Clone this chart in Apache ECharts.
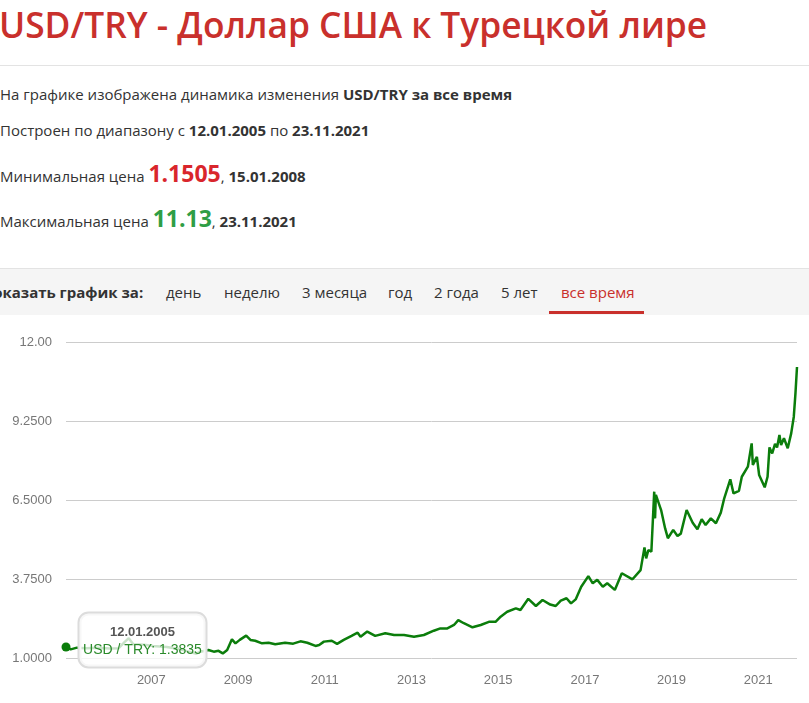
<!DOCTYPE html>
<html><head><meta charset="utf-8">
<script src="https://cdn.jsdelivr.net/npm/echarts@6/dist/echarts.min.js"></script>
<style>
html,body{margin:0;padding:0;width:809px;height:703px;overflow:hidden;background:#fff;font-family:"Open Sans",sans-serif;color:#333;}
.abs{position:absolute;white-space:nowrap;}
#title{left:-1px;top:1px;font-size:35.3px;font-weight:600;line-height:46px;color:#c9302c;}
#hr{left:0;top:65px;width:809px;height:1px;background:#e3e3e3;}
.p{left:0;font-size:15px;line-height:20px;color:#333;}
.p b{font-weight:700;}
.big{font-size:23px;font-weight:700;}
#tabs{left:0;top:268px;width:809px;height:46px;background:#f5f5f5;border-top:1px solid #e3e3e3;}
.tab{top:281px;font-size:15px;line-height:22px;color:#333;}
#chart{position:absolute;left:0;top:320px;width:809px;height:383px;}
</style></head>
<body>
<div class="abs" id="title">USD/TRY - Доллар США к Турецкой лире</div>
<div class="abs" id="hr"></div>
<div class="abs p" style="top:84px">На графике изображена динамика изменения <b>USD/TRY за все время</b></div>
<div class="abs p" style="top:120px">Построен по диапазону с <b>12.01.2005</b> по <b>23.11.2021</b></div>
<div class="abs p" style="top:161px;line-height:24px">Минимальная цена <span class="big" style="color:#d9262c">1.1505</span>, <b>15.01.2008</b></div>
<div class="abs p" style="top:206px;line-height:24px">Максимальная цена <span class="big" style="color:#2f9e45">11.13</span>, <b>23.11.2021</b></div>
<div class="abs" id="tabs"></div>
<div class="abs tab" style="left:-18px;font-weight:700">Показать график за:</div>
<div class="abs tab" style="left:166px">день</div>
<div class="abs tab" style="left:224px">неделю</div>
<div class="abs tab" style="left:302px">3 месяца</div>
<div class="abs tab" style="left:388px">год</div>
<div class="abs tab" style="left:434px">2 года</div>
<div class="abs tab" style="left:501px">5 лет</div>
<div class="abs tab" style="left:561px;color:#c9302c">все время</div>
<div class="abs" style="left:549px;top:311px;width:95px;height:3px;background:#c9302c"></div>
<div id="chart"></div>
<script>
var dates = ['2005-01-12','2005-02-20','2005-04-15','2005-07-01','2005-10-01','2006-01-15','2006-04-01','2006-05-20','2006-06-25','2006-08-01','2006-11-01','2007-01-15','2007-05-10','2007-08-15','2007-10-27','2008-01-15','2008-02-18','2008-04-26','2008-06-10','2008-07-20','2008-08-25','2008-10-01','2008-11-10','2008-12-10','2009-01-15','2009-03-10','2009-04-15','2009-05-25','2009-07-22','2009-09-15','2009-11-10','2010-02-01','2010-04-10','2010-06-10','2010-08-07','2010-10-15','2010-11-15','2010-12-25','2011-03-01','2011-04-15','2011-06-10','2011-08-15','2011-10-05','2011-10-30','2011-12-25','2012-03-01','2012-05-25','2012-08-07','2012-10-30','2013-01-22','2013-04-15','2013-07-08','2013-09-01','2013-10-30','2013-12-25','2014-01-30','2014-03-18','2014-05-30','2014-08-07','2014-10-15','2014-12-10','2015-01-22','2015-03-18','2015-05-30','2015-07-08','2015-09-12','2015-11-15','2016-01-10','2016-03-15','2016-04-30','2016-06-12','2016-07-30','2016-09-06','2016-10-15','2016-12-01','2017-01-30','2017-03-08','2017-04-15','2017-06-01','2017-07-08','2017-09-10','2017-11-08','2018-02-06','2018-04-15','2018-05-18','2018-06-01','2018-06-20','2018-07-15','2018-08-08','2018-08-15','2018-08-22','2018-10-05','2018-11-08','2018-12-01','2019-01-15','2019-02-20','2019-03-20','2019-05-08','2019-06-28','2019-08-07','2019-09-12','2019-10-15','2019-11-28','2020-01-10','2020-02-20','2020-03-20','2020-05-10','2020-06-06','2020-07-22','2020-08-15','2020-10-05','2020-11-06','2020-11-16','2020-12-20','2021-01-08','2021-02-24','2021-03-20','2021-04-05','2021-04-28','2021-05-22','2021-06-08','2021-06-28','2021-07-12','2021-08-05','2021-09-06','2021-10-05','2021-10-27','2021-11-10','2021-11-23'];
var usdTry = [1.3835,1.30,1.36,1.34,1.36,1.33,1.34,1.55,1.69,1.48,1.46,1.42,1.38,1.32,1.24,1.1505,1.22,1.28,1.22,1.25,1.16,1.28,1.65,1.51,1.63,1.78,1.63,1.60,1.51,1.53,1.48,1.53,1.50,1.58,1.53,1.42,1.45,1.57,1.60,1.49,1.63,1.77,1.88,1.74,1.92,1.77,1.86,1.80,1.80,1.74,1.80,1.95,2.03,2.03,2.15,2.32,2.21,2.07,2.15,2.26,2.26,2.44,2.61,2.73,2.67,3.06,2.81,3.02,2.86,2.81,3.00,3.08,2.90,3.04,3.48,3.85,3.60,3.72,3.48,3.60,3.37,3.95,3.74,4.06,4.85,4.47,4.76,4.70,6.79,5.86,6.68,6.15,5.51,5.17,5.46,5.25,5.33,6.15,5.71,5.48,5.83,5.63,5.86,5.69,6.06,6.56,7.22,6.73,6.82,7.31,7.66,8.47,7.72,8.00,7.37,6.94,7.31,8.33,8.12,8.45,8.33,8.76,8.41,8.65,8.30,8.82,9.40,10.21,11.13];
var yTicks = [1, 3.75, 6.5, 9.25, 12];
var yearLabels = ['2007','2009','2011','2013','2015','2017','2019','2021'];
var seriesName = 'USD / TRY';

function ts(s){var p=s.split('-');return new Date(+p[0],+p[1]-1,+p[2]).getTime();}
function fmtDate(s){var p=s.split('-');return p[2]+'.'+p[1]+'.'+p[0];}
var lineData = dates.map(function(d,i){return [ts(d), usdTry[i]];});
var green = '#0b7d0b';
var labelFont = '"Liberation Sans", Arial, sans-serif';

var chart = echarts.init(document.getElementById('chart'), null, {renderer:'canvas'});
chart.setOption({
  animation:false,
  grid:{left:66,right:12,top:22,bottom:45,containLabel:false},
  xAxis:{
    type:'value',
    min:ts(dates[0]), max:ts(dates[dates.length-1]),
    axisLine:{show:false}, axisTick:{show:false}, splitLine:{show:false},
    axisLabel:{
      customValues: yearLabels.map(function(y){return new Date(+y,0,1).getTime();}),
      formatter:function(v){return String(new Date(v).getFullYear());},
      color:'#777', fontSize:13, fontFamily:labelFont, margin:16, hideOverlap:false
    }
  },
  yAxis:{
    type:'value', min:yTicks[0], max:yTicks[yTicks.length-1], interval:2.75,
    axisLine:{show:false}, axisTick:{show:false},
    splitLine:{lineStyle:{color:'#cccccc', width:1}},
    axisLabel:{
      color:'#777', fontSize:13, fontFamily:labelFont, margin:14,
      formatter:function(v){return v>=10 ? v.toFixed(2) : v.toFixed(4);}
    }
  },
  series:[{
    name:seriesName, type:'line', data:lineData, showSymbol:false, silent:true,
    lineStyle:{color:green, width:2.5}, itemStyle:{color:green},
    markPoint:{
      symbol:'circle', symbolSize:9, silent:true,
      itemStyle:{color:green},
      data:[{coord:lineData[0]}],
      label:{
        show:true, position:[18,-29], align:'left', verticalAlign:'top',
        formatter:function(){return '{d|'+fmtDate(dates[0])+'}\n{v|'+seriesName+': '+usdTry[0].toFixed(4)+'}';},
        backgroundColor:'rgba(255,255,255,0.78)', borderColor:'#dcdcdc', borderWidth:2, borderRadius:9,
        padding:[9,6,8,6], width:114,
        rich:{
          d:{fontFamily:labelFont, fontSize:13, fontWeight:'bold', color:'#555', align:'center', lineHeight:20, width:114},
          v:{fontFamily:labelFont, fontSize:14, color:'#2a8a2a', align:'center', lineHeight:16, width:114}
        }
      }
    }
  }]
});
</script>
</body></html>
